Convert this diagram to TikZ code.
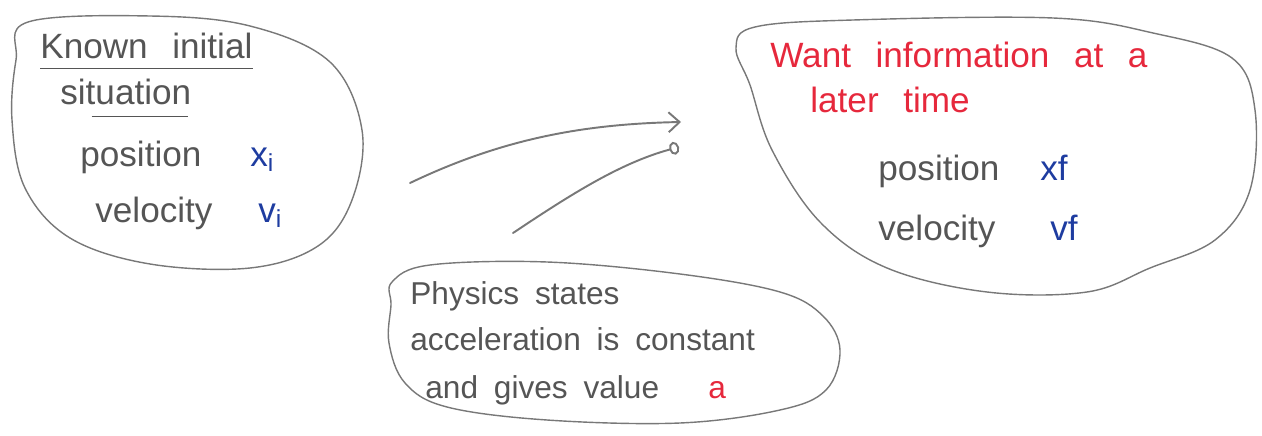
\documentclass[tikz,border=0pt]{standalone}
\usepackage{fontspec}
\setmainfont{Liberation Sans}
\usepackage{tikz}
\usetikzlibrary{arrows.meta}

\definecolor{pencil}{RGB}{120,120,120}
\definecolor{lead}{RGB}{85,85,85}
\definecolor{inkblue}{RGB}{30,60,160}
\definecolor{inkred}{RGB}{230,40,60}

\newcommand{\wideword}{\spaceskip=0.7em\relax}
\newcommand{\narrowword}{\spaceskip=0.5em\relax}

\begin{document}
\begin{tikzpicture}[
	  x=0.02cm, y=-0.02cm,
	  every node/.style = {inner sep=0pt, anchor=base west, text=lead,
	    font=\fontsize{20}{24}\selectfont, execute at begin node=\wideword},
	  small/.style = {font=\fontsize{18}{22}\selectfont, execute at begin node=\narrowword},
	  blob/.style = {draw=pencil, line width=0.8pt},
	  quantity/.style = {text=inkblue},
	  wanted/.style = {text=inkred},
	  penline/.style = {draw=pencil, line width=1.1pt, line cap=round},
	  underpen/.style = {draw=lead, line width=0.8pt}
	]

	  \useasboundingbox (0,0) rectangle (1262,436);

	  % outlines
	  \draw[blob] plot[smooth cycle, tension=0.6] coordinates {
	    (28,22) (150,16) (250,26) (330,62) (362,130) (352,200) (318,246)
	    (250,268) (150,264) (70,238) (25,188) (12,120) (16,60)};
	  \draw[blob] plot[smooth cycle, tension=0.6] coordinates {
	    (736,48) (755,27) (853,20) (1053,18) (1153,33) (1232,58) (1255,110)
	    (1250,190) (1215,240) (1150,268) (1087,292) (987,292) (887,268)
	    (820,222) (772,150) (750,85)};
	  \draw[blob] plot[smooth cycle, tension=0.6] coordinates {
	    (392,282) (430,265) (547,262) (680,274) (780,292) (823,316) (840,350)
	    (826,390) (780,410) (680,423) (547,420) (447,407) (405,383) (389,343)
	    (391,305)};

	  % known initial situation
	  \node (known) at (40,58) {Known initial};
	  \node (situation) at (60,104) {situation};
	  \draw[underpen] ([yshift=-6pt]known.base west) -- ([yshift=-6pt]known.base east);
	  \draw[underpen] ([yshift=-7pt,xshift=18pt]situation.base west) -- ([yshift=-7pt,xshift=-2pt]situation.base east);
	  \node (posi) at (80,166) {position};
	  \node[quantity] (xi) at (250,166) {x\textsubscript{i}};
	  \node (veli) at (95,222) {velocity};
	  \node[quantity] (vi) at (258,222) {v\textsubscript{i}};

	  % wanted later situation
	  \node[wanted] (want) at (770,68) {Want information at a};
	  \node[wanted] (later) at (810,112) {later time};
	  \node (posf) at (878,180) {position};
	  \node[quantity] (xf) at (1040,180) {xf};
	  \node (velf) at (878,240) {velocity};
	  \node[quantity] (vf) at (1050,240) {vf};

	  % physics
	  \node[small] (phys) at (410,304) {Physics states};
	  \node[small] (accel) at (410,350) {acceleration is constant};
	  \node[small] (gives) at (425,398) {and gives value};
	  \node[small, wanted] (acc) at (708,398) {a};

	  % connectors
	  \coordinate (fromknown) at (410,183);
	  \coordinate (towant) at (681,122);
	  \coordinate (fromphys) at (513,233);
	  \coordinate (towant2) at (679,147);
	  \draw[penline, -{Straight Barb[length=2.2mm, width=4mm]}]
	    (fromknown) .. controls (500,140) and (580,124) .. (towant);
	  \draw[penline, -{Circle[open, length=2mm, width=2.6mm]}]
	    (fromphys) .. controls (570,195) and (620,163) .. (towant2);
	\end{tikzpicture}
\end{document}
